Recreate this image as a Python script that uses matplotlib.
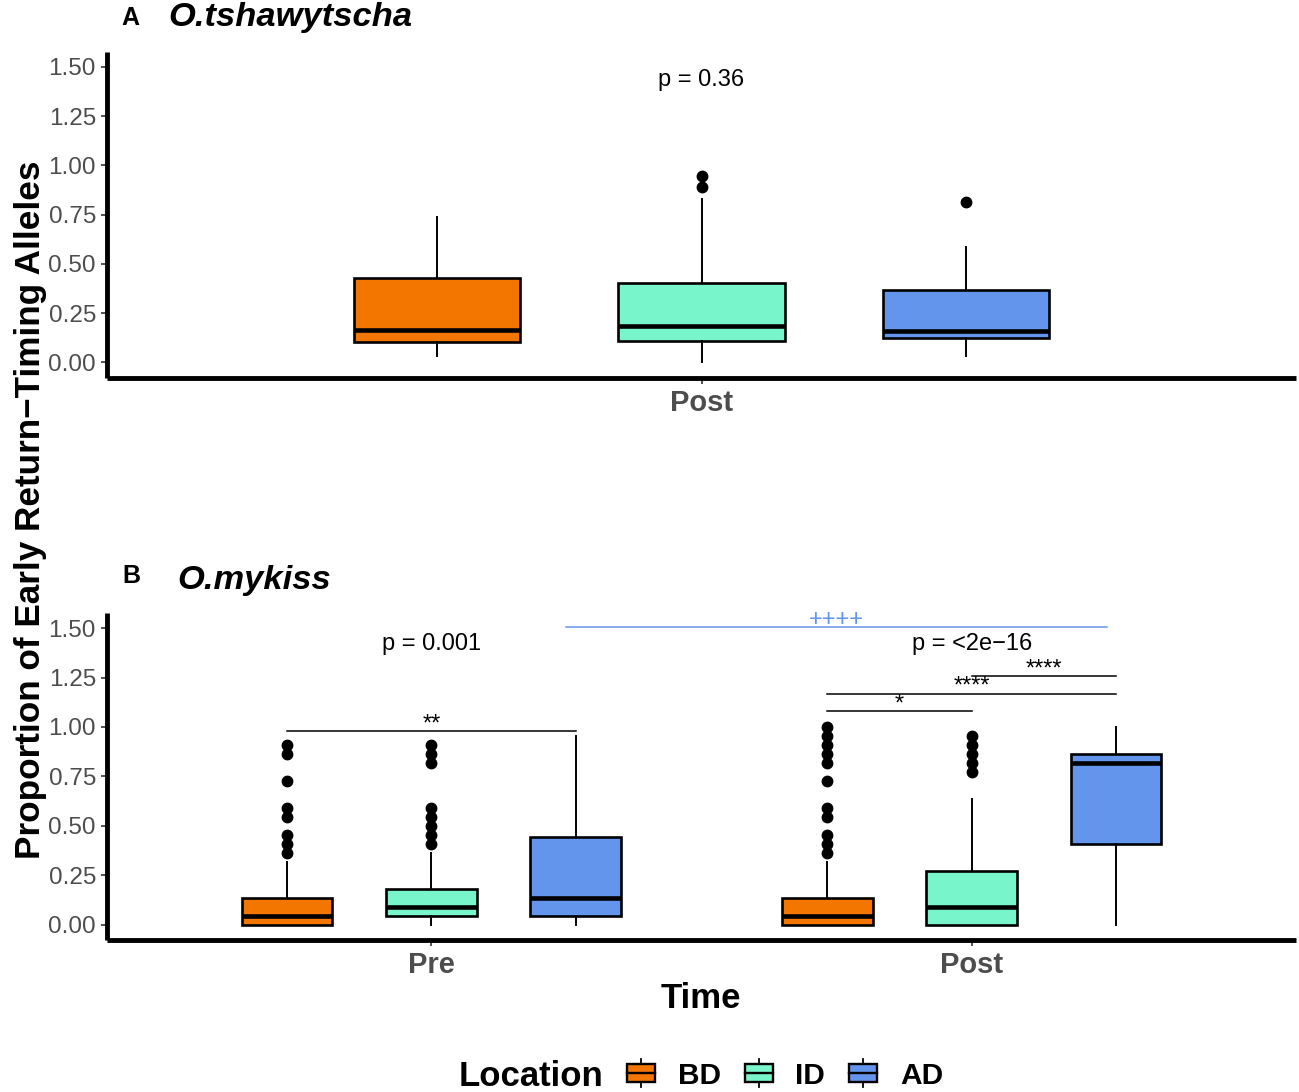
import matplotlib
matplotlib.use("Agg")
import matplotlib.pyplot as plt
from matplotlib.legend_handler import HandlerBase
from matplotlib.patches import Patch, Rectangle
from matplotlib.lines import Line2D

plt.rcParams['font.family'] = ['Liberation Sans', 'DejaVu Sans']

# ---- data (proportions) ----
locations = ["BD", "ID", "AD"]
loc_colors = ["#F27600", "#78F5CA", "#6495ED"]

# panel A: O.tshawytscha, only "Post"
a_times = ["Post"]
a_whislo = [0.033, 0.0, 0.033]
a_q1 = [0.105, 0.108, 0.125]
a_med = [0.164, 0.184, 0.160]
a_q3 = [0.426, 0.404, 0.368]
a_whishi = [0.736, 0.829, 0.587]
a_fliers = [[], [0.945, 0.888], [0.813]]
a_pvalue = "p = 0.36"

# panel B: O.mykiss, "Pre" and "Post"
b_times = ["Pre", "Post"]
b_pre_whislo = [0.0, 0.0, 0.0]
b_pre_q1 = [0.0, 0.045, 0.045]
b_pre_med = [0.045, 0.091, 0.136]
b_pre_q3 = [0.136, 0.182, 0.443]
b_pre_whishi = [0.318, 0.364, 0.955]
b_pre_fliers = [[0.909, 0.864, 0.727, 0.591, 0.545, 0.455, 0.409, 0.364],
                [0.909, 0.864, 0.818, 0.591, 0.545, 0.500, 0.455, 0.409],
                []]
b_post_whislo = [0.0, 0.0, 0.0]
b_post_q1 = [0.0, 0.0, 0.409]
b_post_med = [0.045, 0.091, 0.818]
b_post_q3 = [0.136, 0.273, 0.864]
b_post_whishi = [0.318, 0.636, 1.0]
b_post_fliers = [[1.0, 0.955, 0.909, 0.864, 0.818, 0.727, 0.591, 0.545, 0.455, 0.409, 0.364],
                 [0.955, 0.909, 0.864, 0.818, 0.773],
                 []]
b_pvalues = ["p = 0.001", "p = <2e\u221216"]

# pairwise brackets in panel B: (time index, loc i, loc j, height, label)
b_brackets = [(0, 0, 2, 0.979, "**"),
              (1, 0, 1, 1.080, "*"),
              (1, 0, 2, 1.168, "****"),
              (1, 1, 2, 1.257, "****")]
# Pre vs Post comparison for AD
b_time_bracket = (1.25, 2.25, 1.505, "++++")

dodge = [-0.267, 0.0, 0.267]
box_w = 0.168
ylims = (-0.078, 1.575)
yticks = [0, 0.25, 0.5, 0.75, 1.0, 1.25, 1.5]


def draw_boxes(ax, center, whislo, q1, med, q3, whishi, fliers):
    stats = []
    for k in range(len(locations)):
        stats.append(dict(whislo=whislo[k], q1=q1[k], med=med[k], q3=q3[k],
                          whishi=whishi[k], fliers=fliers[k]))
    pos = [center + d for d in dodge]
    bp = ax.bxp(stats, positions=pos, widths=box_w, patch_artist=True, showcaps=False,
                boxprops=dict(edgecolor='black', linewidth=1.9),
                medianprops=dict(color='black', linewidth=3.3),
                whiskerprops=dict(color='black', linewidth=1.4),
                flierprops=dict(marker='o', markerfacecolor='black', markeredgecolor='black',
                                markersize=7.5, linestyle='none'),
                manage_ticks=False)
    for patch, c in zip(bp['boxes'], loc_colors):
        patch.set_facecolor(c)


def style_axis(ax, times):
    ax.set_xlim(0.4, len(times) + 0.6)
    ax.set_ylim(*ylims)
    ax.set_yticks(yticks)
    ax.set_yticklabels(["%.2f" % t for t in yticks], fontsize=17.5)
    ax.set_xticks(range(1, len(times) + 1))
    ax.set_xticklabels(times, fontsize=21, fontweight='bold')
    ax.tick_params(axis='both', length=4, width=1.2, color='#333333', labelcolor='#4D4D4D')
    ax.tick_params(axis='y', pad=4)
    ax.tick_params(axis='x', pad=4)
    for s in ['top', 'right']:
        ax.spines[s].set_visible(False)
    for s in ['left', 'bottom']:
        ax.spines[s].set_linewidth(3.5)
        ax.spines[s].set_color('black')
        ax.spines[s].set_capstyle('butt')


fig = plt.figure(figsize=(12.99, 10.92), dpi=100)
axA = fig.add_axes([0.0824, 0.6541, 0.9153, 0.2983])
axB = fig.add_axes([0.0824, 0.1392, 0.9153, 0.2992])

# panel A
draw_boxes(axA, 1, a_whislo, a_q1, a_med, a_q3, a_whishi, a_fliers)
style_axis(axA, a_times)
axA.text(1, 1.40, a_pvalue, ha='center', va='baseline', fontsize=17)

# panel B
draw_boxes(axB, 1, b_pre_whislo, b_pre_q1, b_pre_med, b_pre_q3, b_pre_whishi, b_pre_fliers)
draw_boxes(axB, 2, b_post_whislo, b_post_q1, b_post_med, b_post_q3, b_post_whishi, b_post_fliers)
style_axis(axB, b_times)
for t, p in enumerate(b_pvalues):
    axB.text(t + 1, 1.39, p, ha='center', va='baseline', fontsize=17)

for t, i, j, h, lab in b_brackets:
    x1 = t + 1 + dodge[i]
    x2 = t + 1 + dodge[j]
    axB.plot([x1, x2], [h, h], color='black', linewidth=1.1)
    axB.text((x1 + x2) / 2, h + 0.004, lab, ha='center', va='baseline', fontsize=17)

x1, x2, h, lab = b_time_bracket
axB.plot([x1, x2], [h, h], color='#6495ED', linewidth=1.1)
axB.text((x1 + x2) / 2, h + 0.004, lab, ha='center', va='baseline', fontsize=17, color='#6495ED')

# panel labels and titles
fig.text(130.5 / 1299, 1 - 25 / 1092, "A", fontsize=18, fontweight='bold', ha='center', va='baseline')
fig.text(168 / 1299, 1 - 26 / 1092, "O.tshawytscha", fontsize=24.8, fontweight='bold',
         fontstyle='italic', ha='left', va='baseline')
fig.text(131 / 1299, 1 - 583 / 1092, "B", fontsize=18, fontweight='bold', ha='center', va='baseline')
fig.text(177 / 1299, 1 - 589 / 1092, "O.mykiss", fontsize=24.8, fontweight='bold',
         fontstyle='italic', ha='left', va='baseline')

fig.text(31 / 1299, 1 - 510 / 1092, "Proportion of Early Return\u2212Timing Alleles",
         rotation=90, fontsize=25.3, fontweight='bold', ha='center', va='center')
fig.text(701 / 1299, 1 - 998 / 1092, "Time", fontsize=25, fontweight='bold', ha='center', va='center')


# legend with boxplot-like keys
class BoxKey(HandlerBase):
    def create_artists(self, legend, orig_handle, xdescent, ydescent, width, height, fontsize, trans):
        x0, y0 = -xdescent, -ydescent
        fc = orig_handle.get_facecolor()
        rect = Rectangle((x0, y0 + 0.15 * height), width, 0.7 * height, facecolor=fc,
                         edgecolor='black', linewidth=1.7, transform=trans)
        med = Line2D([x0, x0 + width], [y0 + 0.5 * height] * 2, color='black', linewidth=1.7, transform=trans)
        w1 = Line2D([x0 + width / 2] * 2, [y0 - 0.05 * height, y0 + 0.15 * height], color='black',
                    linewidth=1.3, transform=trans)
        w2 = Line2D([x0 + width / 2] * 2, [y0 + 0.85 * height, y0 + 1.05 * height], color='black',
                    linewidth=1.3, transform=trans)
        return [rect, med, w1, w2]


handles = [Patch(facecolor=c, edgecolor='black') for c in loc_colors]
leg = fig.legend(handles, locations, handler_map={Patch: BoxKey()}, ncol=3, frameon=False,
                 loc='center', bbox_to_anchor=(785 / 1299, 1 - 1075 / 1092),
                 prop=dict(size=21.5, weight='bold'), handlelength=0.95, handleheight=0.95,
                 handletextpad=0.75, columnspacing=0.8)
fig.text(459 / 1299, 1 - 1076 / 1092, "Location", fontsize=25, fontweight='bold', ha='left', va='center')

fig.savefig("out.png", dpi=100)
